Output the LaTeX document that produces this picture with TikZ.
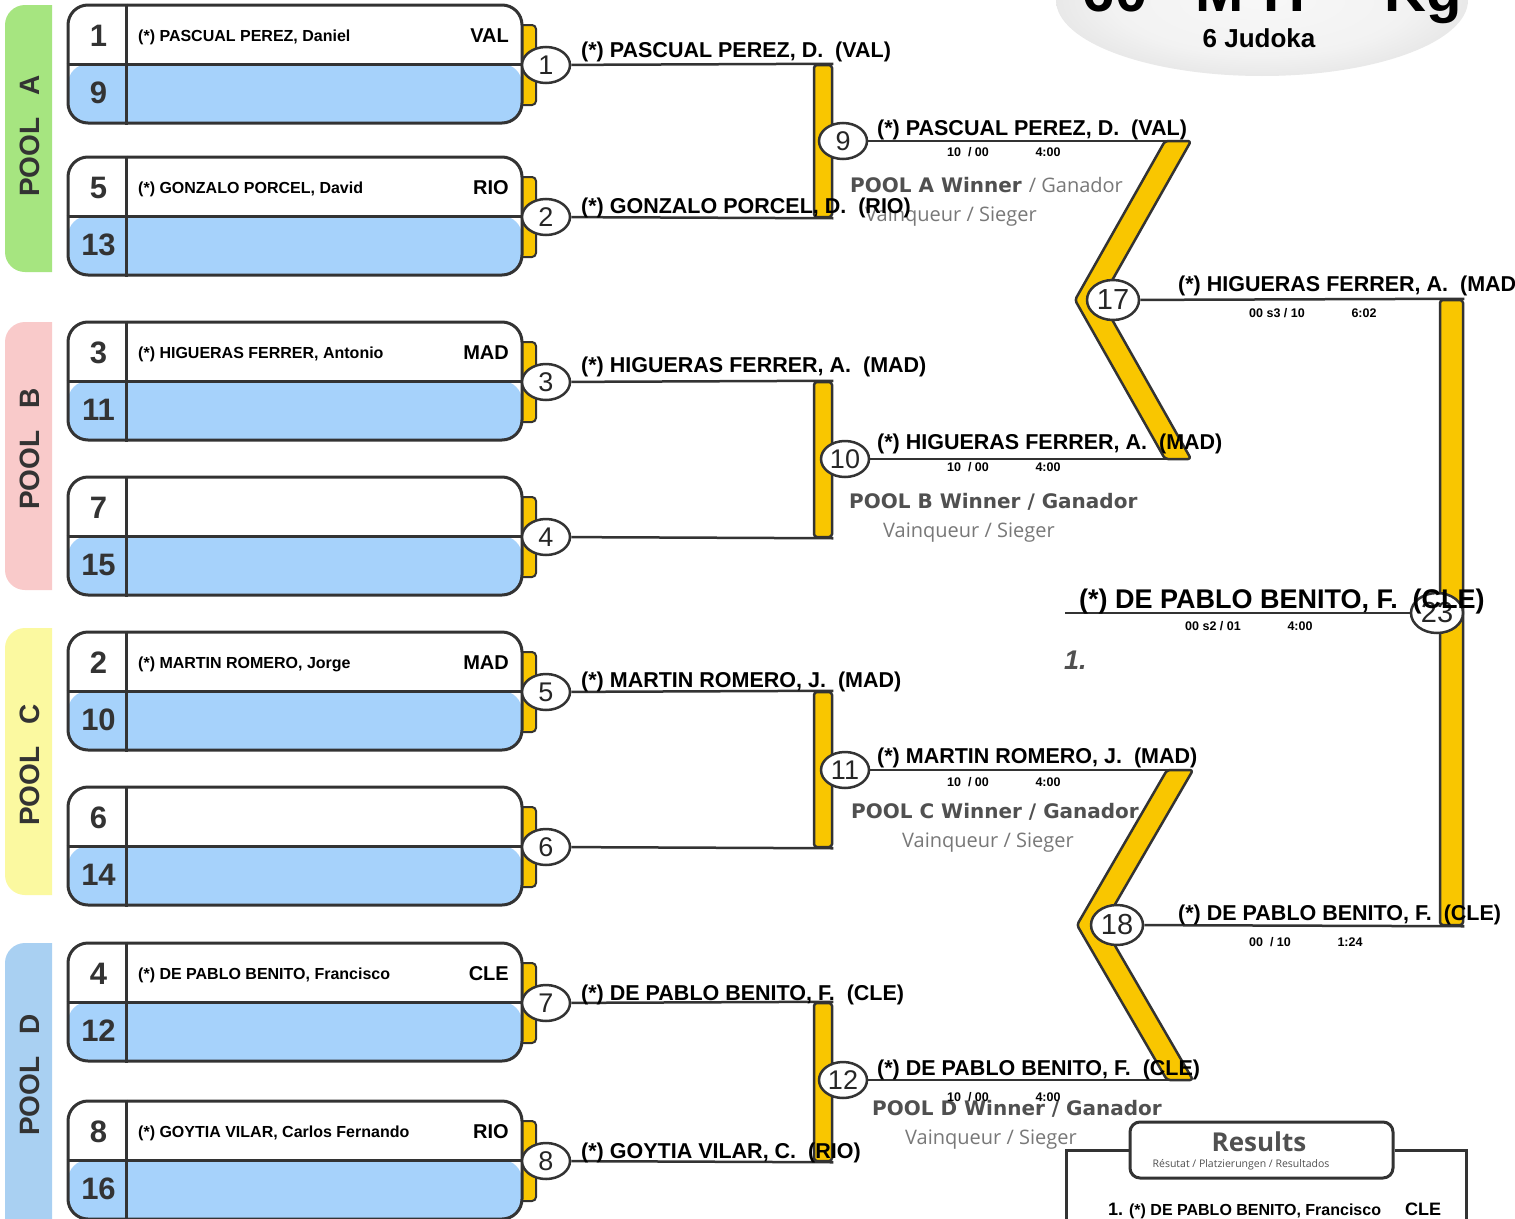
\documentclass[tikz,border=0pt]{standalone}
\usepackage{fontspec}
\setmainfont{Liberation Sans}
\newfontfamily\dvfont{DejaVu Sans}
\newfontfamily\osfont{Open Sans}
\usetikzlibrary{shapes.geometric,calc}
\definecolor{ylw}{RGB}{249,198,0}
\definecolor{dk}{RGB}{51,51,51}
\definecolor{lblue}{RGB}{166,210,251}
\definecolor{pA}{RGB}{166,229,128}
\definecolor{pB}{RGB}{249,202,202}
\definecolor{pC}{RGB}{251,249,160}
\definecolor{pD}{RGB}{169,208,242}
\definecolor{gtxt}{RGB}{80,80,80}
\definecolor{ltxt}{RGB}{120,120,120}
\newcommand\fsz[1]{\fontsize{#1}{#1}\selectfont}
\pgfdeclareradialshading{titleshade}{\pgfpoint{0bp}{0bp}}{color(0bp)=(gray!6); color(18bp)=(gray!10); color(27bp)=(gray!20); color(32bp)=(gray!36); color(35.4bp)=(gray!62); color(50bp)=(gray!62)}
\pgfdeclarelayer{back}
\pgfdeclarelayer{bg}
\pgfsetlayers{back,bg,main}
\begin{document}
\begin{tikzpicture}[x=1pt,y=-1pt,
  entry/.style={draw=dk,line width=3,rounded corners=20,minimum width=454,minimum height=118,fill=white,inner sep=0,
    path picture={\fill[lblue] (path picture bounding box.west) rectangle (path picture bounding box.south east);}},
  boxline/.style={draw=dk,line width=3},
  tabbox/.style={draw=dk,line width=2,fill=ylw,rounded corners=4,minimum width=22,minimum height=80,inner sep=0},
  barbox/.style={draw=dk,line width=2.5,fill=ylw,rounded corners=3,minimum width=18,inner sep=0},
  mnode/.style={ellipse,draw=dk,line width=2.5,fill=white,minimum width=48,minimum height=36,inner sep=0,font=\fsz{27},text=black!85},
  bignode/.style={mnode,minimum width=52,minimum height=40,font=\fsz{29}},
  conn/.style={draw=dk,line width=2.5},
  bnum/.style={font=\bfseries\fsz{31},text=dk,inner sep=0},
  ename/.style={anchor=base west,font=\bfseries\fsz{16},inner sep=0},
  ecty/.style={anchor=base east,font=\bfseries\fsz{20},inner sep=0},
  wname/.style={anchor=base west,font=\bfseries\fsz{21.5},inner sep=0},
  score/.style={font=\bfseries\fsz{12.5},inner sep=0},
  poolw/.style={anchor=base west,font=\dvfont\bfseries\fsz{20},text=gtxt,inner sep=0},
  vq/.style={anchor=base west,font=\osfont\fsz{20},text=ltxt,inner sep=0},
  plabel/.style={rotate=90,font=\bfseries\fsz{28},text=dk,inner sep=0}
]
\useasboundingbox (0,0) rectangle (1515,1218);
\begin{pgfonlayer}{back}
\fill[white] (0,0) rectangle (1515,1218);
\end{pgfonlayer}

% title
\node[ellipse,minimum width=412,minimum height=152,shading=titleshade,inner sep=0] (ttl) at (1262,0) {};
\node[anchor=base east,font=\bfseries\fsz{58},inner sep=0] (ttltxt) at (1462,12) {60\hspace{32pt} M-H\hspace{44pt} -Kg};
\node[font=\bfseries\fsz{26},inner sep=0] (jud) at (1259,38) {6 Judoka};

% pool strips
\begin{scope}
\clip (0,0) rectangle (52,1218);
\fill[pA,rounded corners=20] (5,5) rectangle (90,272);
\fill[pB,rounded corners=20] (5,322) rectangle (90,590);
\fill[pC,rounded corners=20] (5,628) rectangle (90,895);
\fill[pD,rounded corners=20] (5,943) rectangle (90,1250);
\end{scope}
\node[plabel] (plA) at (30,136) {POOL\hspace{22pt}A};
\node[plabel] (plB) at (30,449) {POOL\hspace{22pt}B};
\node[plabel] (plC) at (30,765) {POOL\hspace{22pt}C};
\node[plabel] (plD) at (30,1075) {POOL\hspace{22pt}D};

% entry boxes
\foreach \i/\yc/\nt/\nb/\nm/\cty in {
  1/64/1/9/{(*) PASCUAL PEREZ, Daniel}/VAL,
  2/216/5/13/{(*) GONZALO PORCEL, David}/RIO,
  3/381/3/11/{(*) HIGUERAS FERRER, Antonio}/MAD,
  4/536/7/15/{}/{},
  5/691/2/10/{(*) MARTIN ROMERO, Jorge}/MAD,
  6/846/6/14/{}/{},
  7/1002/4/12/{(*) DE PABLO BENITO, Francisco}/CLE,
  8/1160/8/16/{(*) GOYTIA VILAR, Carlos Fernando}/RIO}{
  \node[tabbox] (t\i) at (525,\yc+1) {};
  \node[entry] (b\i) at (295,\yc) {};
  \draw[boxline] (b\i.west) -- (b\i.east);
  \draw[boxline] ($(b\i.north west)+(60,0)$) -- ($(b\i.south west)+(60,0)$);
  \node[bnum] (nt\i) at (98.5,\yc-28) {\nt};
  \node[bnum] (nb\i) at (98.5,\yc+29) {\nb};
  \node[ename] (na\i) at (138,\yc-23) {\nm};
  \node[ecty] (nc\i) at (509,\yc-22) {\cty};
  \node[mnode] (e\i) at (546,\yc+1) {\i};
}

% round 2 bars
\node[barbox,minimum height=152] (r9) at (823,141) {};
\node[barbox,minimum height=155] (r10) at (823,459.5) {};
\node[barbox,minimum height=155] (r11) at (823,769.5) {};
\node[barbox,minimum height=158] (r12) at (823,1082) {};

% chevrons
\filldraw[draw=dk,line width=2.5,fill=ylw,rounded corners=3,line join=round]
  (1165,141) -- (1191,141) -- (1101,300) -- (1191,459) -- (1165,459) -- (1075,300) -- cycle;
\filldraw[draw=dk,line width=2.5,fill=ylw,rounded corners=3,line join=round]
  (1167,770) -- (1193,770) -- (1103,925) -- (1193,1080) -- (1167,1080) -- (1077,925) -- cycle;
\coordinate (k1t) at (1180,141);
\coordinate (k1b) at (1180,459);
\coordinate (k2t) at (1182,770);
\coordinate (k2b) at (1182,1080);

% final bar
\node[barbox,minimum width=23,minimum height=625] (fb) at (1451.5,612.5) {};

% round 2,3,4 match nodes
\node[mnode] (e9) at (843,141) {9};
\node[mnode] (e10) at (845,459) {10};
\node[mnode] (e11) at (845,770) {11};
\node[mnode] (e12) at (843,1080) {12};
\node[bignode] (e17) at (1113,300) {17};
\node[bignode] (e18) at (1117,925) {18};
\node[bignode] (e23) at (1437,613) {23};
\coordinate (f0) at (1065,613);

% connectors
\begin{pgfonlayer}{bg}
\draw[conn] (e1) -- (r9.north east);
\draw[conn] (e2) -- (r9.south east);
\draw[conn] (e3) -- (r10.north east);
\draw[conn] (e4) -- (r10.south east);
\draw[conn] (e5) -- (r11.north east);
\draw[conn] (e6) -- (r11.south east);
\draw[conn] (e7) -- (r12.north east);
\draw[conn] (e8) -- (r12.south east);
\draw[conn] (e9) -- (k1t);
\draw[conn] (e10) -- (k1b);
\draw[conn] (e11) -- (k2t);
\draw[conn] (e12) -- (k2b);
\draw[conn] (e17) -- (fb.north east);
\draw[conn] (e18) -- (fb.south east);
\draw[conn] (f0) -- (e23);
\end{pgfonlayer}

% pool winner labels
\node[poolw] (wlA) at (850,192) {POOL A Winner {\osfont\mdseries\color{ltxt} / Ganador}};
\node[vq] (vqA) at (865,221) {Vainqueur / Sieger};
\node[poolw] (wlB) at (849,508) {POOL B Winner / Ganador};
\node[vq] (vqB) at (883,537) {Vainqueur / Sieger};
\node[poolw] (wlC) at (851,818) {POOL C Winner / Ganador};
\node[vq] (vqC) at (902,847) {Vainqueur / Sieger};
\node[poolw] (wlD) at (872,1115) {POOL D Winner / Ganador};
\node[vq] (vqD) at (905,1144) {Vainqueur / Sieger};

% winner names
\node[wname] (w1) at (581,57) {(*) PASCUAL PEREZ, D.\ \ (VAL)};
\node[wname] (w2) at (581,213) {(*) GONZALO PORCEL, D.\ \ (RIO)};
\node[wname] (w3) at (581,372) {(*) HIGUERAS FERRER, A.\ \ (MAD)};
\node[wname] (w5) at (581,687) {(*) MARTIN ROMERO, J.\ \ (MAD)};
\node[wname] (w7) at (581,1000) {(*) DE PABLO BENITO, F.\ \ (CLE)};
\node[wname] (w8) at (581,1158) {(*) GOYTIA VILAR, C.\ \ (RIO)};
\node[wname] (w9) at (877,135) {(*) PASCUAL PEREZ, D.\ \ (VAL)};
\node[wname] (w10) at (877,449) {(*) HIGUERAS FERRER, A.\ \ (MAD)};
\node[wname] (w11) at (877,763) {(*) MARTIN ROMERO, J.\ \ (MAD)};
\node[wname] (w12) at (877,1075) {(*) DE PABLO BENITO, F.\ \ (CLE)};
\node[wname] (w17) at (1178,291) {(*) HIGUERAS FERRER, A.\ \ (MAD)};
\node[wname] (w18) at (1178,920) {(*) DE PABLO BENITO, F.\ \ (CLE)};
\node[wname,font=\bfseries\fsz{27}] (w23) at (1079,608) {(*) DE PABLO BENITO, F.\ \ (CLE)};

% scores
\node[score] (s9a) at (968,152) {10\ \ / 00};
\node[score] (s9b) at (1048,152) {4:00};
\node[score] (s10a) at (968,467) {10\ \ / 00};
\node[score] (s10b) at (1048,467) {4:00};
\node[score] (s11a) at (968,782) {10\ \ / 00};
\node[score] (s11b) at (1048,782) {4:00};
\node[score] (s12a) at (968,1097) {10\ \ / 00};
\node[score] (s12b) at (1048,1097) {4:00};
\node[score] (s17a) at (1277,313) {00 s3 / 10};
\node[score] (s17b) at (1364,313) {6:02};
\node[score] (s18a) at (1270,942) {00\ \ / 10};
\node[score] (s18b) at (1350,942) {1:24};
\node[score] (s23a) at (1213,626) {00 s2 / 01};
\node[score] (s23b) at (1300,626) {4:00};
\node[anchor=base west,font=\bfseries\itshape\fsz{27},text=gtxt,inner sep=0] (place1) at (1064,669) {1.};

% results
\node[draw=dk,line width=3,fill=white,rounded corners=10,minimum width=263,minimum height=56,inner sep=0] (rs) at (1261.5,1150) {};
\draw[draw=dk,line width=3] (rs.west) -- ++(-62,0) -- ++(0,90);
\draw[draw=dk,line width=3] (rs.east) -- ++(72,0) -- ++(0,90);
\node[font=\osfont\bfseries\fsz{26},text=gtxt,inner sep=0] (rst) at (1259,1142) {Results};
\node[font=\osfont\fsz{10.5},text=gtxt,inner sep=0] (rss) at (1241,1165) {Résutat / Platzierungen / Resultados};
\node[anchor=base west,font=\bfseries\fsz{16},inner sep=0] (res1) at (1108,1215) {{\fsz{18}1.} (*) DE PABLO BENITO, Francisco};
\node[anchor=base west,font=\bfseries\fsz{18},inner sep=0] (res1c) at (1405,1215) {CLE};
\end{tikzpicture}
\end{document}
